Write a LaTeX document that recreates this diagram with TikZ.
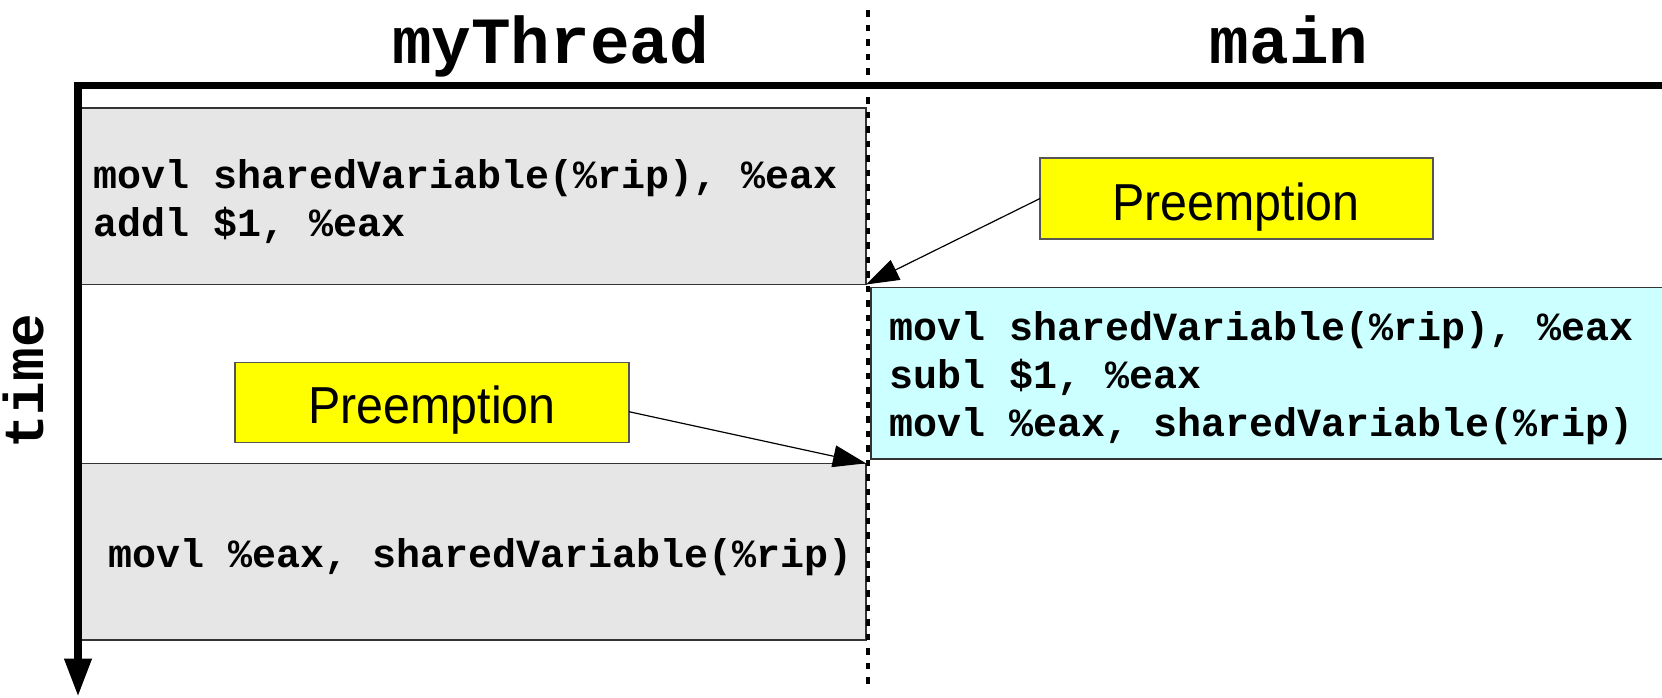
\documentclass[tikz,border=0pt]{standalone}
\usepackage{fontspec}
\usepackage{graphicx}
\setmonofont{Liberation Mono}
\newfontfamily\notefont{Liberation Sans}
\usetikzlibrary{arrows.meta}
\definecolor{codegray}{HTML}{E6E6E6}
\definecolor{codecyan}{HTML}{CCFFFF}
\definecolor{noteyellow}{HTML}{FFFF00}
\definecolor{boxedge}{HTML}{333333}
\definecolor{noteedge}{HTML}{555555}
\begin{document}
\begin{tikzpicture}[x=1pt,y=-1pt,
  codebox/.style={draw=boxedge, line width=1.3pt, anchor=north west, inner sep=0pt, outer sep=0pt},
  notebox/.style={draw=noteedge, fill=noteyellow, line width=1.2pt, anchor=north west, inner sep=0pt, outer sep=0pt},
  codeline/.style={anchor=base west, inner sep=0pt, font=\fontsize{40}{48}\selectfont\ttfamily\bfseries},
  title/.style={anchor=base, inner sep=0pt, font=\fontsize{66}{70}\selectfont\ttfamily\bfseries},
  notetext/.style={anchor=base, inner sep=0pt, font=\fontsize{52}{60}\selectfont\notefont},
  connector/.style={line width=1.2pt, -{Triangle[length=33pt,width=22pt]}},
  timeaxis/.style={line width=7.3pt, -{Triangle[length=38pt,width=26pt]}},
  divider/.style={line width=3.2pt, dash pattern=on 6.7pt off 7.8pt}]
\useasboundingbox (0,0) rectangle (1662,697);
\begin{scope}
\clip (0,0) rectangle (1662,697);

% instruction blocks
\node[codebox, fill=codegray, minimum width=786pt, minimum height=176.5pt] (g1) at (80,108) {};
\node[codebox, fill=codegray, minimum width=786pt, minimum height=176.7pt] (g2) at (80,463.3) {};
\node[codebox, fill=codecyan, minimum width=900pt, minimum height=171.5pt] (cy) at (871,287.5) {};

% preemption notes
\node[notebox, minimum width=393pt, minimum height=81pt] (y1) at (1040,158) {};
\node[notebox, minimum width=394pt, minimum height=80pt] (y2) at (235,362.7) {};
\node[notetext] (p1) at (1236,220) {\scalebox{0.93}[1]{Preemption}};
\node[notetext] (p2) at (432,423.3) {\scalebox{0.93}[1]{Preemption}};

% code
\node[codeline] (g1a) at (93,188.3) {movl sharedVariable(\%rip), \%eax};
\node[codeline] (g1b) at (93,236.7) {addl \$1, \%eax};
\node[codeline] (c1) at (889,340.5) {movl sharedVariable(\%rip), \%eax};
\node[codeline] (c2) at (889,388.3) {subl \$1, \%eax};
\node[codeline] (c3) at (889,436.7) {movl \%eax, sharedVariable(\%rip)};
\node[codeline] (g2a) at (108.5,567.3) {movl \%eax, sharedVariable(\%rip)};

% thread boundary
\coordinate (dtop) at (868,10);
\coordinate (dbot) at (868,686);
\draw[divider] (dtop) -- (dbot);

% time axis
\coordinate (rend) at (1680,85.5);
\coordinate (corner) at (78,85.5);
\coordinate (tend) at (78,696.5);
\draw[timeaxis] (rend) -- (corner) -- (tend);

% headings
\node[title] (t1) at (550.5,63.3) {myThread};
\node[title] (t2) at (1289,63.3) {main};
\node[title, font=\fontsize{56}{60}\selectfont\ttfamily\bfseries, rotate=90] (tl) at (43.3,381.5) {time};

% preemption arrows
\draw[connector] (y1.west) -- (g1.south east);
\draw[connector] ([yshift=-9pt]y2.east) -- (g2.north east);
\end{scope}
\end{tikzpicture}
\end{document}
